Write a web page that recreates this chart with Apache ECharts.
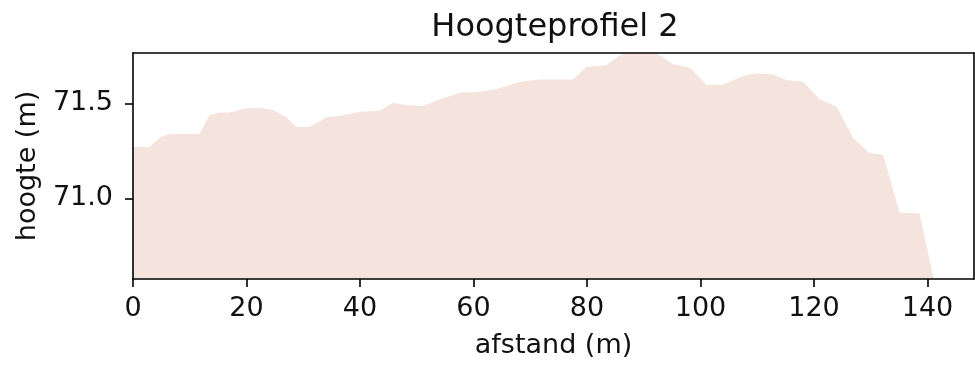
<!DOCTYPE html>
<html>
<head>
<meta charset="utf-8">
<script src="https://cdn.jsdelivr.net/npm/echarts@6/dist/echarts.min.js"></script>
<style>
html,body{margin:0;padding:0;background:#fff;}
#c{width:975px;height:365px;}
</style>
</head>
<body>
<div id="c"></div>
<script>
const distances = [0, 2.9, 5.0, 6.5, 11.7, 13.5, 15.3, 17.0, 20.0, 22.3, 24.7, 27.0, 28.8, 31.1, 34.1, 36.4, 40.0, 43.5, 45.8, 48.2, 51.1, 54.1, 57.6, 61.1, 64.0, 68.2, 71.7, 77.5, 79.9, 83.4, 85.8, 87.5, 91.0, 92.8, 95.2, 98.1, 101.1, 104.0, 107.5, 109.9, 112.8, 115.2, 118.1, 121.0, 124.0, 126.9, 129.8, 132.2, 135.1, 138.6, 141.0, 142.0];
const heights = [71.27, 71.27, 71.325, 71.338, 71.338, 71.439, 71.451, 71.451, 71.474, 71.477, 71.465, 71.427, 71.375, 71.375, 71.427, 71.434, 71.456, 71.461, 71.503, 71.491, 71.486, 71.521, 71.555, 71.561, 71.573, 71.613, 71.625, 71.625, 71.691, 71.700, 71.752, 71.78, 71.78, 71.752, 71.705, 71.688, 71.596, 71.599, 71.643, 71.657, 71.651, 71.622, 71.613, 71.521, 71.482, 71.317, 71.239, 71.230, 70.925, 70.922, 70.59, 70.45];
const xTicks = [0, 20, 40, 60, 80, 100, 120, 140];
const yTicks = [71.0, 71.5];
const xRange = [0, 148.2];
const yRange = [70.577, 71.764];
const titleText = 'Hoogteprofiel 2';
const xName = 'afstand (m)';
const yName = 'hoogte (m)';

const font = 'DejaVu Sans';
const chart = echarts.init(document.getElementById('c'), null, {renderer: 'canvas'});
const data = distances.map((d, i) => [d, heights[i]]);

const edgeAxisX = {
  type: 'value', min: xRange[0], max: xRange[1], position: 'top', z: 10,
  axisLine: {show: true, onZero: false, lineStyle: {color: '#000', width: 1.6}},
  axisTick: {show: false}, axisLabel: {show: false}, splitLine: {show: false}
};
const edgeAxisY = {
  type: 'value', min: yRange[0], max: yRange[1], position: 'right', z: 10,
  axisLine: {show: true, onZero: false, lineStyle: {color: '#000', width: 1.6}},
  axisTick: {show: false}, axisLabel: {show: false}, splitLine: {show: false}
};

chart.setOption({
  animation: false,
  backgroundColor: '#fff',
  title: {
    text: titleText, left: 550, top: 7, textAlign: 'center',
    textStyle: {fontFamily: font, fontSize: 32, fontWeight: 'normal', color: '#111'}
  },
  grid: {left: 133, right: 1, top: 53, bottom: 86, containLabel: false},
  xAxis: [{
    type: 'value', min: xRange[0], max: xRange[1], z: 10,
    name: xName, nameLocation: 'middle', nameGap: 53,
    nameTextStyle: {fontFamily: font, fontSize: 27, color: '#111'},
    axisLine: {show: true, onZero: false, lineStyle: {color: '#000', width: 1.6}},
    axisTick: {show: true, length: 8, lineStyle: {color: '#000', width: 1.6}, customValues: xTicks},
    axisLabel: {fontFamily: font, fontSize: 27, color: '#111', margin: 16, customValues: xTicks},
    splitLine: {show: false}
  }, edgeAxisX],
  yAxis: [{
    type: 'value', min: yRange[0], max: yRange[1], z: 10,
    name: yName, nameLocation: 'middle', nameGap: 90, nameRotate: 90,
    nameTextStyle: {fontFamily: font, fontSize: 27, color: '#111'},
    axisLine: {show: true, onZero: false, lineStyle: {color: '#000', width: 1.6}},
    axisTick: {show: true, length: 8, lineStyle: {color: '#000', width: 1.6}, customValues: yTicks},
    axisLabel: {fontFamily: font, fontSize: 27, color: '#111', margin: 20, customValues: yTicks,
      formatter: v => v.toFixed(1)},
    splitLine: {show: false}
  }, edgeAxisY],
  series: [{
    type: 'line',
    data: data,
    xAxisIndex: 0, yAxisIndex: 0,
    showSymbol: false, symbol: 'none',
    clip: true,
    lineStyle: {width: 0, color: '#f5e4de'},
    itemStyle: {color: '#f5e4de'},
    areaStyle: {color: '#f5e4de', opacity: 1, origin: 'start'},
    z: 2
  }]
});
</script>
</body>
</html>
